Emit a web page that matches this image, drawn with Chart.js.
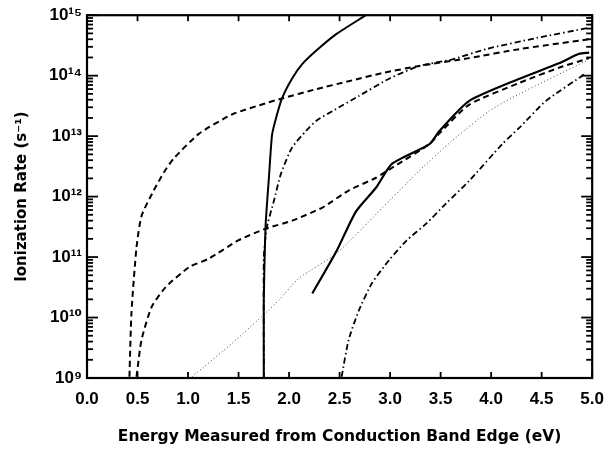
<!DOCTYPE html>
<html>
<head>
<meta charset="utf-8">
<script src="https://cdn.jsdelivr.net/npm/chart.js@4/dist/chart.umd.min.js"></script>
<style>
  html, body { margin: 0; padding: 0; background: #ffffff; }
</style>
</head>
<body>
<canvas id="c" width="615" height="453"></canvas>
<script>
// ---- Data (x: energy in eV, y: ionization rate in s^-1) ----
const xTickValues = [0, 0.5, 1, 1.5, 2, 2.5, 3, 3.5, 4, 4.5, 5];
const yDecades = [9, 10, 11, 12, 13, 14, 15];

// Solid curve, steep (starts at 1.75 eV)
const solidSteepX = [1.75, 1.75, 1.76, 1.77, 1.80, 1.83, 1.86, 1.93, 2.03, 2.13, 2.27, 2.47, 2.76];
const solidSteepY = [1e9, 2e10, 1.3e11, 4e11, 2e12, 1e13, 1.7e13, 4.2e13, 9e13, 1.55e14, 2.6e14, 4.9e14, 1e15];

// Dashed curve starting near 0.42 eV
const dashedAX = [0.42, 0.44, 0.49, 0.54, 0.66, 0.76, 0.86, 1.11, 1.44, 1.77, 1.93, 2.27, 2.59, 2.92, 3.29, 3.78, 4.28, 4.97];
const dashedAY = [1.05e9, 1.2e10, 1.45e11, 4.8e11, 1.26e12, 2.5e12, 4.3e12, 1.1e13, 2.3e13, 3.5e13, 4.2e13, 6e13, 8.1e13, 1.1e14, 1.45e14, 1.95e14, 2.75e14, 4e14];

// Dash-dot curve starting at 1.75 eV
const dashDotBX = [1.75, 1.75, 1.78, 1.85, 1.92, 2.03, 2.17, 2.27, 2.43, 2.69, 2.99, 3.29, 3.61, 3.95, 4.45, 4.97];
const dashDotBY = [1e9, 1e11, 3.1e11, 8.5e11, 2.4e12, 6.5e12, 1.23e13, 1.8e13, 2.6e13, 4.6e13, 8.9e13, 1.45e14, 1.85e14, 2.75e14, 4.2e14, 6.2e14];

// Dashed curve starting near 0.49 eV
const dashedCX = [0.49, 0.54, 0.64, 0.78, 1.01, 1.21, 1.50, 1.77, 2.03, 2.33, 2.59, 2.86, 3.02, 3.39, 3.49, 3.78, 4.28, 4.67, 4.97];
const dashedCY = [1.05e9, 4.3e9, 1.5e10, 3.2e10, 6.8e10, 9.5e10, 1.9e11, 2.95e11, 4e11, 6.6e11, 1.26e12, 2.05e12, 3e12, 7.4e12, 1.12e13, 3.3e13, 7.6e13, 1.35e14, 1.95e14];

// Solid curve starting at 2.2 eV
const solidDX = [2.23, 2.47, 2.66, 2.86, 3.02, 3.39, 3.49, 3.78, 4.28, 4.67, 4.87, 4.97];
const solidDY = [2.5e10, 1.26e11, 5.6e11, 1.4e12, 3.5e12, 7.4e12, 1.23e13, 3.8e13, 8.9e13, 1.6e14, 2.3e14, 2.4e14];

// Dotted curve starting at 1.0 eV
const dottedX = [1.04, 1.44, 1.77, 1.90, 2.10, 2.47, 2.99, 3.29, 3.61, 3.98, 4.28, 4.94];
const dottedY = [1.05e9, 3.8e9, 1.2e10, 1.95e10, 4.5e10, 1.15e11, 8.5e11, 2.7e12, 8.3e12, 2.6e13, 5e13, 1.75e14];

// Dash-dot curve starting at 2.5 eV
const dashDotFX = [2.52, 2.59, 2.69, 2.82, 2.99, 3.16, 3.36, 3.55, 3.78, 4.11, 4.28, 4.54, 4.94];
const dashDotFY = [1.05e9, 4.3e9, 1.3e10, 3.7e10, 8.9e10, 1.86e11, 3.6e11, 7.6e11, 1.8e12, 7.4e12, 1.38e13, 3.8e13, 1.1e14];

const xTitle = 'Energy Measured from Conduction Band Edge (eV)';
const yTitle = 'Ionization Rate (s\u207B\u00B9)';

// ---- build ----
function pts(xs, ys) { return xs.map((x, i) => ({ x: x, y: ys[i] })); }
const SUP = ['\u2070','\u00B9','\u00B2','\u00B3','\u2074','\u2075','\u2076','\u2077','\u2078','\u2079'];
function sup(n) { return String(n).split('').map(d => SUP[+d]).join(''); }

function yTickList() {
  const t = [];
  for (let e = yDecades[0]; e < yDecades[yDecades.length - 1]; e++) {
    for (let m = 1; m <= 9; m++) t.push({ value: m * Math.pow(10, e), major: m === 1 });
  }
  t.push({ value: Math.pow(10, yDecades[yDecades.length - 1]), major: true });
  return t;
}

function ds(label, xs, ys, width, dash, color) {
  return {
    label: label, data: pts(xs, ys), borderColor: color || '#000', borderWidth: width,
    borderDash: dash, pointRadius: 0, fill: false, tension: 0.2
  };
}

const frameTicks = {
  id: 'frameTicks',
  afterDraw(chart) {
    const ctx = chart.ctx;
    const a = chart.chartArea;
    const xs = chart.scales.x, ys = chart.scales.y;
    ctx.save();
    ctx.setLineDash([]);
    ctx.strokeStyle = '#000000';
    ctx.lineWidth = 2.2;
    ctx.strokeRect(a.left, a.top, a.right - a.left, a.bottom - a.top);
    ctx.lineWidth = 1.8;
    const yt = yTickList();
    for (let i = 0; i < yt.length; i++) {
      const p = ys.getPixelForValue(yt[i].value);
      const len = yt[i].major ? 11 : 6;
      ctx.beginPath();
      ctx.moveTo(a.left, p); ctx.lineTo(a.left + len, p);
      ctx.stroke();
      ctx.beginPath();
      ctx.moveTo(a.right, p); ctx.lineTo(a.right - len, p);
      ctx.stroke();
    }
    for (let i = 0; i < xTickValues.length; i++) {
      const p = xs.getPixelForValue(xTickValues[i]);
      ctx.beginPath();
      ctx.moveTo(p, a.bottom); ctx.lineTo(p, a.bottom - 6);
      ctx.stroke();
      ctx.beginPath();
      ctx.moveTo(p, a.top); ctx.lineTo(p, a.top + 6);
      ctx.stroke();
    }
    ctx.restore();
  }
};

new Chart(document.getElementById('c'), {
  type: 'line',
  data: {
    datasets: [
      ds('solid steep', solidSteepX, solidSteepY, 2, []),
      ds('dashed A', dashedAX, dashedAY, 2, [6, 4]),
      ds('dash-dot B', dashDotBX, dashDotBY, 1.8, [6, 3, 1.5, 3]),
      ds('dashed C', dashedCX, dashedCY, 2, [6, 4]),
      ds('solid D', solidDX, solidDY, 2.2, []),
      ds('dotted', dottedX, dottedY, 1, [1, 2.5], '#444'),
      ds('dash-dot F', dashDotFX, dashDotFY, 1.8, [6, 3, 1.5, 3])
    ]
  },
  options: {
    responsive: false,
    animation: false,
    devicePixelRatio: 1,
    layout: { padding: { left: 0, right: 22, top: 14, bottom: 0 } },
    plugins: { legend: { display: false }, tooltip: { enabled: false } },
    scales: {
      x: {
        type: 'linear', min: 0, max: 5,
        afterBuildTicks(scale) { scale.ticks = xTickValues.map(v => ({ value: v })); },
        afterFit(scale) { scale.height = 75; },
        grid: { display: false, drawTicks: false },
        border: { display: false },
        ticks: {
          autoSkip: false, maxRotation: 0, padding: 11, color: '#000',
          font: { family: 'Liberation Sans, Arial, sans-serif', size: 17, weight: 'bold' },
          callback: v => Number(v).toFixed(1)
        },
        title: {
          display: true, text: xTitle, color: '#000',
          font: { family: 'DejaVu Sans, Liberation Sans, sans-serif', size: 15.5, weight: 'bold' },
          padding: { top: 0, bottom: 7 }
        }
      },
      y: {
        type: 'logarithmic', min: 1e9, max: 1e15,
        afterBuildTicks(scale) { scale.ticks = yTickList().map(t => ({ value: t.value })); },
        afterFit(scale) { scale.width = 87; },
        grid: { display: false, drawTicks: false },
        border: { display: false },
        ticks: {
          autoSkip: false, padding: 5, color: '#000',
          font: { family: 'Liberation Sans, DejaVu Sans, sans-serif', size: 17, weight: 'bold' },
          callback: function (v) {
            const e = Math.log10(v);
            if (Math.abs(e - Math.round(e)) < 1e-9) return '10' + sup(Math.round(e));
            return '';
          }
        },
        title: {
          display: true, text: yTitle, color: '#000',
          font: { family: 'DejaVu Sans, Liberation Sans, sans-serif', size: 15, weight: 'bold' },
          padding: { top: 13, bottom: 0 }
        }
      }
    }
  },
  plugins: [frameTicks]
});
</script>
</body>
</html>
